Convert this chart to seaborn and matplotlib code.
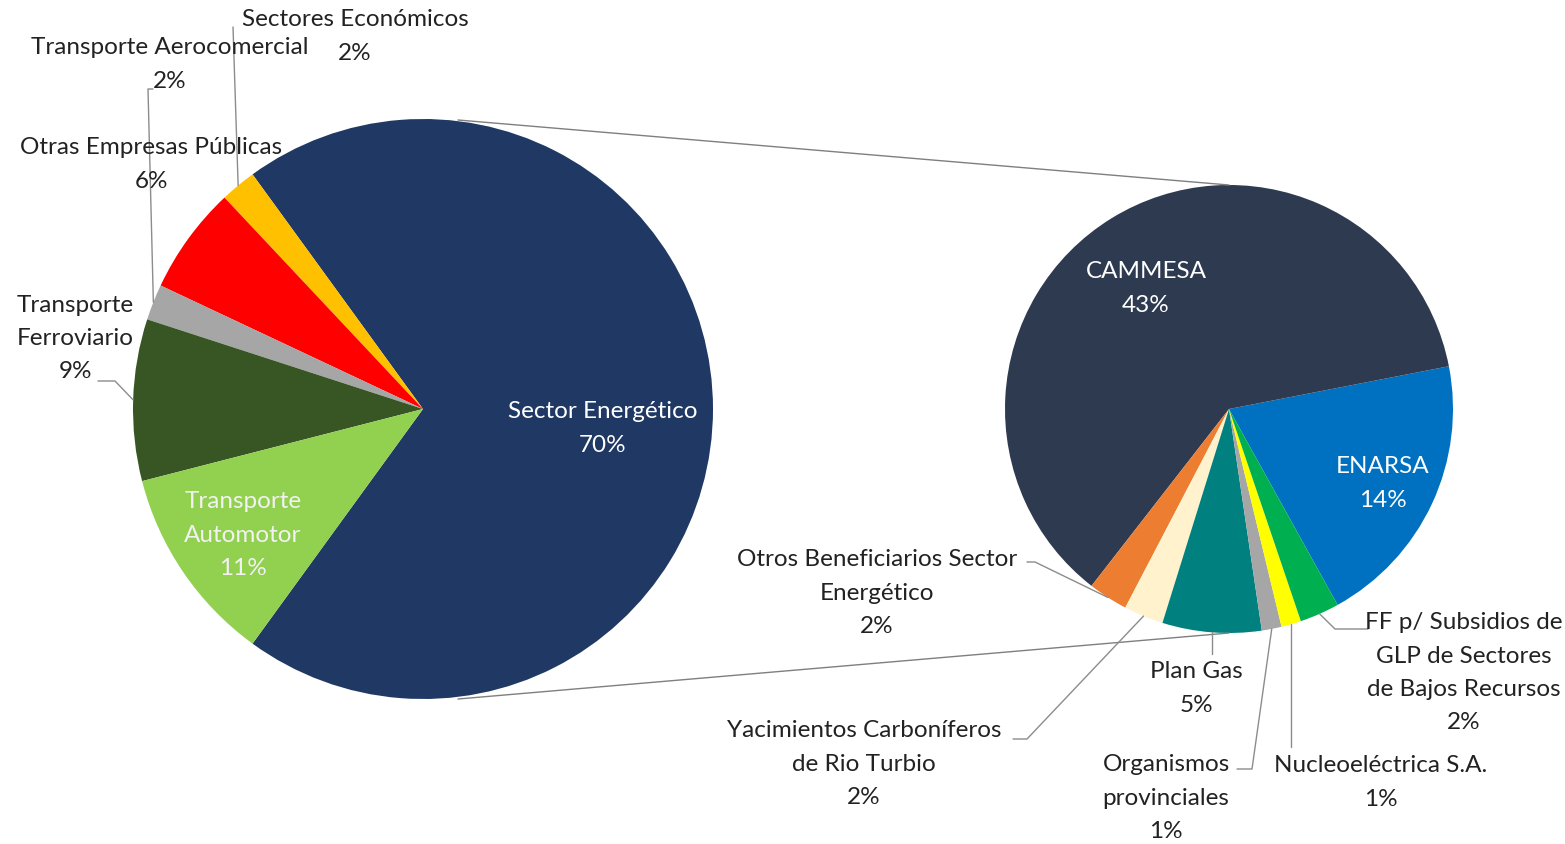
import numpy as np
import matplotlib
matplotlib.use("Agg")
import matplotlib.pyplot as plt
import seaborn as sns

# Main pie (counterclockwise, starting at the lower edge of the split wedge)
main_labels = ["Sector Energético", "Sectores Económicos", "Otras Empresas Públicas",
               "Transporte Aerocomercial", "Transporte Ferroviario", "Transporte Automotor"]
main_values = [70, 2, 6, 2, 9, 11]
main_colors = ["#1F3864", "#FFC000", "#FF0000", "#A6A6A6", "#375623", "#92D050"]

# Secondary pie: breakdown of Sector Energético
sub_labels = ["ENARSA", "CAMMESA", "Otros Beneficiarios Sector Energético",
              "Yacimientos Carboníferos de Rio Turbio", "Plan Gas",
              "Organismos provinciales", "Nucleoeléctrica S.A.",
              "FF p/ Subsidios de GLP de Sectores de Bajos Recursos"]
sub_values = [14, 43, 2, 2, 5, 1, 1, 2]
sub_colors = ["#0070C0", "#2E3A4F", "#ED7D31", "#FFF2CC", "#00807F",
              "#A6A6A6", "#FFFF00", "#00B050"]

W, H = 1565, 845
sns.set_theme(style="white")
plt.rcParams['font.family'] = ['Lato', 'DejaVu Sans']

fig = plt.figure(figsize=(W / 100, H / 100), dpi=100)
ax = fig.add_axes([0, 0, 1, 1])


def Y(y):
    return H - y


c1, r1 = (423, Y(410)), 290
c2, r2 = (1229, Y(410)), 224

start1 = -main_values[0] / 100 * 360 / 2
w1, _ = ax.pie(main_values, colors=main_colors, center=c1, radius=r1,
               startangle=start1, wedgeprops=dict(linewidth=0))
sub_total = sum(sub_values)
start2 = 11 - sub_values[0] / sub_total * 360
w2, _ = ax.pie(sub_values, colors=sub_colors, center=c2, radius=r2,
               startangle=start2, wedgeprops=dict(linewidth=0))

ax.set_xlim(0, W)
ax.set_ylim(0, H)
ax.set_aspect("equal")
ax.axis("off")

# connector lines between the pies
lc = "#7F7F7F"
ax.plot([458, c2[0]], [Y(121), c2[1] + r2], color=lc, lw=1)
ax.plot([458, c2[0]], [Y(700), c2[1] - r2], color=lc, lw=1)

fs = 17.5
step = 33.3


def label(x, y0, lines, color="#222222"):
    # one text per line so the line pitch matches the original
    for k, s in enumerate(lines):
        ax.text(x, Y(y0 + k * step), s, ha="center", va="center",
                fontsize=fs, color=color)


def edge(wedges, i, center, r):
    w = wedges[i]
    th = np.deg2rad((w.theta1 + w.theta2) / 2)
    return center[0] + r * np.cos(th), center[1] + r * np.sin(th)


def leader(pts):
    xs, ys = zip(*pts)
    ax.plot(xs, ys, color="#8C8C8C", lw=1)


pct = [f"{v}%" for v in main_values]
spct = [f"{v}%" for v in sub_values]

# main pie labels
label(603, 412, ["Sector Energético", pct[0]], color="white")
label(243, 502, ["Transporte", "Automotor", pct[5]], color="#F2F2F2")
label(355, 20, ["Sectores Económicos", pct[1]])
leader([edge(w1, 1, c1, r1), (233, Y(28))])
label(170, 48, ["Transporte Aerocomercial", pct[3]])
leader([edge(w1, 3, c1, r1), (148, Y(90)), (153, Y(90))])
label(151, 148, ["Otras Empresas Públicas", pct[2]])
label(75, 305, ["Transporte", "Ferroviario", pct[4]])
leader([edge(w1, 4, c1, r1), (115, Y(382)), (98, Y(382))])

# secondary pie labels
label(1146, 272, ["CAMMESA", spct[1]], color="white")
label(1383, 467, ["ENARSA", spct[0]], color="white")
label(1464, 623, ["FF p/ Subsidios de", "GLP de Sectores", "de Bajos Recursos", spct[7]])
leader([edge(w2, 7, c2, r2), (1335, Y(630)), (1368, Y(630))])
label(1381, 766, ["Nucleoeléctrica S.A.", spct[6]])
p = edge(w2, 6, c2, r2)
leader([p, (p[0], Y(748))])
label(1166, 765, ["Organismos", "provinciales", spct[5]])
p = edge(w2, 5, c2, r2)
leader([p, (1252, Y(770)), (1237, Y(770))])
label(1196, 672, ["Plan Gas", spct[4]])
p = edge(w2, 4, c2, r2)
leader([p, (p[0], Y(655))])
label(864, 731, ["Yacimientos Carboníferos", "de Rio Turbio", spct[3]])
leader([edge(w2, 3, c2, r2), (1027, Y(740)), (1013, Y(740))])
label(877, 560, ["Otros Beneficiarios Sector", "Energético", spct[2]])
leader([edge(w2, 2, c2, r2), (1035, Y(563)), (1027, Y(563))])

fig.savefig("out.png", dpi=100)
